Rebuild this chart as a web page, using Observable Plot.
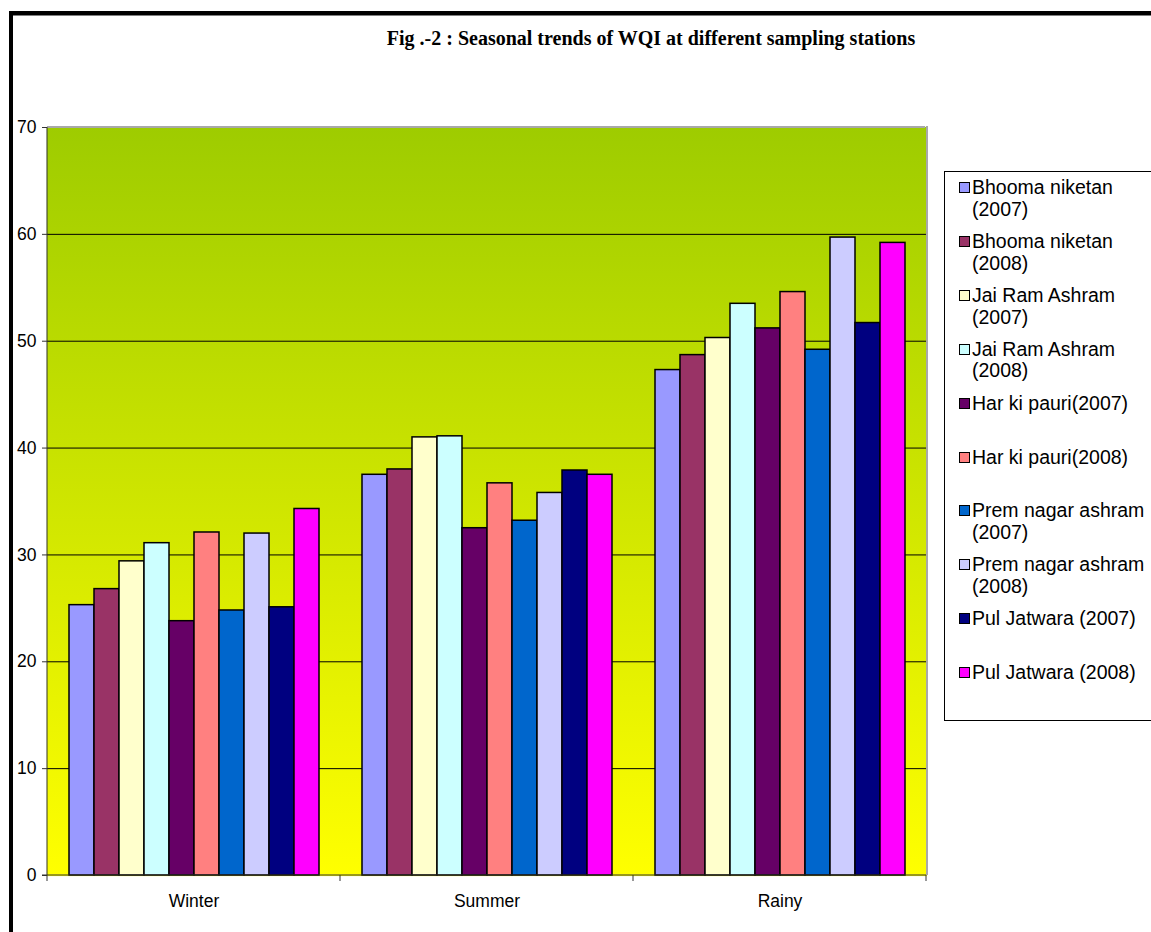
<!DOCTYPE html>
<html>
<head>
<meta charset="utf-8">
<script src="https://cdn.jsdelivr.net/npm/d3@7"></script>
<script src="https://cdn.jsdelivr.net/npm/@observablehq/plot@0.6"></script>
<style>
  html, body { margin: 0; padding: 0; background: #fff; }
  #wrap { position: relative; width: 1151px; height: 932px; overflow: hidden; background: #fff; }
  .bd { position: absolute; background: #000; }
  #title { position: absolute; left: 0; width: 1302px; top: 27px; text-align: center;
           font-family: "Liberation Serif", "Times New Roman", serif; font-weight: bold; font-size: 20px; color: #000; white-space: nowrap; }
  #chart { position: absolute; left: 0; top: 0; }
  #legend { position: absolute; left: 944px; top: 171px; width: 240px; height: 550px; border: 1px solid #000; box-sizing: border-box; background: #fff; }
  .lg-sw { position: absolute; width: 11px; height: 11px; border: 1.5px solid #000; box-sizing: border-box; }
  .lg-tx { position: absolute; font-family: "Liberation Sans", Arial, sans-serif; font-size: 19.5px; line-height: 21.7px; color: #000; white-space: pre; }
</style>
</head>
<body>
<div id="wrap">
  <div class="bd" style="left:9px;top:11px;width:1200px;height:4px;"></div>
  <div class="bd" style="left:9px;top:15px;width:1200px;height:1px;background:#808080;"></div>
  <div class="bd" style="left:9px;top:11px;width:4px;height:1000px;"></div>
  <div id="title"></div>
  <div id="chart"></div>
  <div id="legend"></div>
</div>
<script>
const seasons = ["Winter", "Summer", "Rainy"];
const series = [
  "Bhooma niketan (2007)", "Bhooma niketan (2008)",
  "Jai Ram Ashram (2007)", "Jai Ram Ashram (2008)",
  "Har ki pauri(2007)", "Har ki pauri(2008)",
  "Prem nagar ashram (2007)", "Prem nagar ashram (2008)",
  "Pul Jatwara (2007)", "Pul Jatwara (2008)"
];
const legendLabels = [
  "Bhooma niketan\n(2007)", "Bhooma niketan\n(2008)",
  "Jai Ram Ashram\n(2007)", "Jai Ram Ashram\n(2008)",
  "Har ki pauri(2007)", "Har ki pauri(2008)",
  "Prem nagar ashram\n(2007)", "Prem nagar ashram\n(2008)",
  "Pul Jatwara (2007)", "Pul Jatwara (2008)"
];
const colors = ["#9999FF", "#993366", "#FFFFCC", "#CCFFFF", "#660066", "#FF8080", "#0066CC", "#CCCCFF", "#000080", "#FF00FF"];
const winter = [25.3, 26.8, 29.4, 31.1, 23.8, 32.1, 24.8, 32.0, 25.1, 34.3];
const summer = [37.5, 38.0, 41.0, 41.1, 32.5, 36.7, 33.2, 35.8, 37.9, 37.5];
const rainy  = [47.3, 48.7, 50.3, 53.5, 51.2, 54.6, 49.2, 59.7, 51.7, 59.2];
const yTicks = [0, 10, 20, 30, 40, 50, 60, 70];
const titleText = "Fig .-2 : Seasonal trends of WQI at different sampling stations";

const valuesBySeason = {Winter: winter, Summer: summer, Rainy: rainy};
const data = seasons.flatMap(s => series.map((name, i) => ({season: s, series: name, value: valuesBySeason[s][i]})));

const plot = Plot.plot({
  width: 940,
  height: 932,
  marginLeft: 46,
  marginRight: 14,
  marginTop: 127,
  marginBottom: 57,
  style: {fontFamily: "'Liberation Sans', Arial, sans-serif", background: "transparent", color: "#000", overflow: "visible"},
  fx: {domain: seasons, padding: 0, label: null},
  x: {domain: series, paddingInner: 0, paddingOuter: 0.75, axis: null},
  y: {domain: [0, 70], label: null},
  color: {domain: series, range: colors},
  marks: [
    Plot.frame({fill: "url(#bggrad)", stroke: "url(#bggrad)", strokeWidth: 1.2}),
    Plot.gridY(yTicks.filter(t => t > 0 && t < 70), {stroke: "#000", strokeOpacity: 1, strokeWidth: 1}),
    Plot.barY(data, {fx: "season", x: "series", y: "value", fill: "series", stroke: "#000", strokeWidth: 1.5}),
    Plot.axisY(yTicks, {tickSize: 5, tickPadding: 6, fontSize: 17.5, label: null, stroke: "#333"}),
    Plot.axisFx({anchor: "bottom", tickSize: 0, tickPadding: 19, fontSize: 17.5, label: null})
  ]
});

const svg = d3.select(plot);
const defs = svg.insert("defs", ":first-child");
const grad = defs.append("linearGradient").attr("id", "bggrad").attr("x1", 0).attr("y1", 0).attr("x2", 0).attr("y2", 1);
grad.append("stop").attr("offset", "0%").attr("stop-color", "#9ECC00");
grad.append("stop").attr("offset", "100%").attr("stop-color", "#FFFF00");

// axis lines, boundary ticks and plot border from Plot's scales
const fx = plot.scale("fx"), ys = plot.scale("y");
const edges = seasons.map(s => fx.apply(s));
const left = edges[0], right = edges[edges.length - 1] + fx.bandwidth;
const bounds = [...edges, right];
const y0 = ys.apply(0), yTop = ys.apply(70);
const g = svg.append("g");
g.append("line").attr("x1", left).attr("x2", right - 1).attr("y1", yTop).attr("y2", yTop).attr("stroke", "#a8a8a8").attr("stroke-width", 2);
g.append("line").attr("x1", right + 1).attr("x2", right + 1).attr("y1", yTop - 1).attr("y2", y0).attr("stroke", "#a8a8a8").attr("stroke-width", 2);
g.append("line").attr("x1", left).attr("x2", left).attr("y1", yTop).attr("y2", y0).attr("stroke", "#333").attr("stroke-width", 1);
g.append("line").attr("x1", left - 5).attr("x2", right).attr("y1", y0).attr("y2", y0).attr("stroke", "#333").attr("stroke-width", 1);
g.selectAll(".bt").data(bounds).join("line").attr("x1", d => d).attr("x2", d => d).attr("y1", y0).attr("y2", y0 + 6).attr("stroke", "#333");

document.getElementById("chart").appendChild(plot);
document.getElementById("title").textContent = titleText;

const legend = d3.select("#legend");
legendLabels.forEach((lab, i) => {
  const top = 5 + i * 53.9;
  legend.append("div").attr("class", "lg-sw").style("left", "14px").style("top", (top + 5) + "px").style("background", colors[i]);
  legend.append("div").attr("class", "lg-tx").style("left", "27px").style("top", (top - 0) + "px").text(lab);
});
</script>
</body>
</html>
